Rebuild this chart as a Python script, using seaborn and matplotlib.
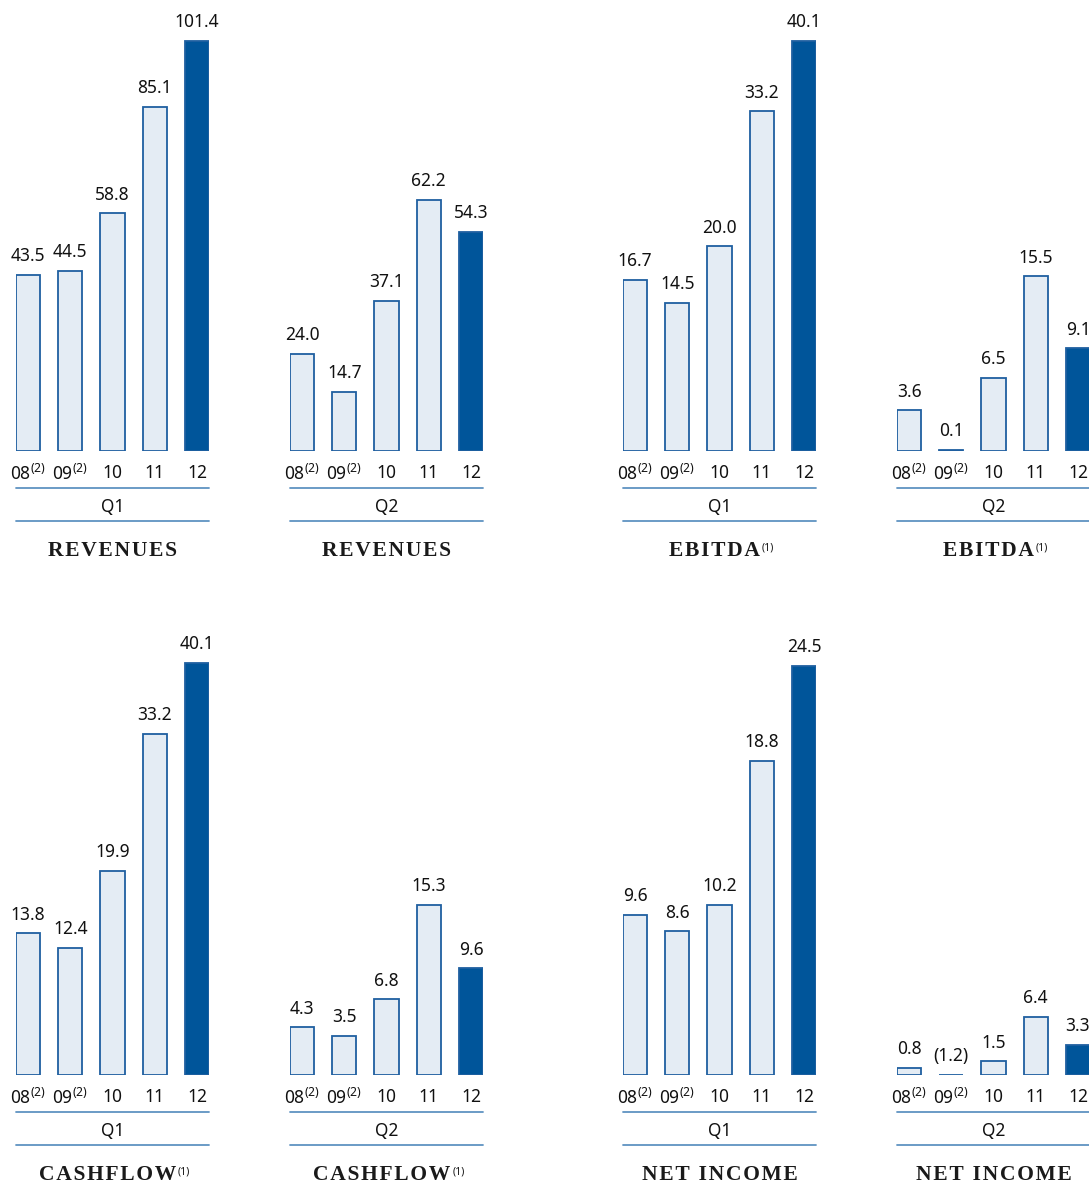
import matplotlib
matplotlib.use("Agg")
import matplotlib.pyplot as plt
from matplotlib.lines import Line2D
import seaborn as sns
import pandas as pd

sns.set_theme(style="white")
plt.rcParams['font.family'] = ['Noto Sans', 'DejaVu Sans']
plt.rcParams['mathtext.fontset'] = 'custom'
plt.rcParams['mathtext.rm'] = 'Noto Sans'

# ---------------- data ----------------
years = ["08$^{\\mathregular{(2)}}$", "09$^{\\mathregular{(2)}}$", "10", "11", "12"]

revenues_q1 = [43.5, 44.5, 58.8, 85.1, 101.4]
revenues_q2 = [24.0, 14.7, 37.1, 62.2, 54.3]
ebitda_q1 = [16.7, 14.5, 20.0, 33.2, 40.1]
ebitda_q2 = [3.6, 0.1, 6.5, 15.5, 9.1]
cashflow_q1 = [13.8, 12.4, 19.9, 33.2, 40.1]
cashflow_q2 = [4.3, 3.5, 6.8, 15.3, 9.6]
netincome_q1 = [9.6, 8.6, 10.2, 18.8, 24.5]
netincome_q2 = [0.8, -1.2, 1.5, 6.4, 3.3]

titles = ["REVENUES", "REVENUES", "EBITDA", "EBITDA",
          "CASHFLOW", "CASHFLOW", "NET INCOME", "NET INCOME"]
title_notes = ["", "", "(1)", "(1)", "(1)", "(1)", "", ""]
quarters = ["Q1", "Q2", "Q1", "Q2", "Q1", "Q2", "Q1", "Q2"]
series = [revenues_q1, revenues_q2, ebitda_q1, ebitda_q2,
          cashflow_q1, cashflow_q2, netincome_q1, netincome_q2]


def fmt(v):
    return f"({abs(v):.1f})" if v < 0 else f"{v:.1f}"


# ---------------- layout ----------------
W, H = 1089, 1184
fig = plt.figure(figsize=(W / 100, H / 100), dpi=100)
renderer = fig.canvas.get_renderer()

lefts = [16, 290, 623, 897]
panel_w = 193
row_base = [451, 1075]
axes_h = 451
ytops = [111.6, 111.6, 44.1, 40.0, 43.9, 40.6, 27.0, 49.8]

light = "#e4ecf4"
dark = "#00559a"
edge = "#1f5fa0"
line_c = "#5f93c2"
txt_c = "#111111"

for i, vals in enumerate(series):
    row, col = divmod(i, 4)
    x0 = lefts[col]
    base = row_base[row]
    ax = fig.add_axes([x0 / W, 1 - base / H, panel_w / W, axes_h / H])
    heights = [max(v, 0) for v in vals]
    df = pd.DataFrame({"year": years, "value": heights})
    pal = {y: (dark if k == 4 else light) for k, y in enumerate(years)}
    sns.barplot(data=df, x="year", y="value", hue="year", palette=pal,
                legend=False, width=0.571, ax=ax, edgecolor=edge,
                linewidth=1.3, saturation=1)
    ax.set_xlim(-0.2855, 4.2855)
    ax.set_ylim(0, ytops[i])
    ax.set_xlabel("")
    ax.set_ylabel("")
    ax.set_yticks([])
    for s in ax.spines.values():
        s.set_visible(False)
    ax.tick_params(axis="x", length=0, pad=9, labelsize=12.5, colors=txt_c)
    ax.set_facecolor("none")

    patches = sorted(ax.patches, key=lambda p: p.get_x())
    for p, v in zip(patches, vals):
        ax.annotate(fmt(v), (p.get_x() + p.get_width() / 2, p.get_height()),
                    xytext=(0, 7), textcoords="offset points",
                    ha="center", va="bottom", fontsize=12.5, color=txt_c)

    # decorations below
    xc = x0 + panel_w / 2
    for yl in (base + 37, base + 70):
        fig.add_artist(Line2D([x0 / W, (x0 + panel_w) / W], [1 - yl / H] * 2,
                              color=line_c, lw=1.3))
    fig.text(xc / W, 1 - (base + 56) / H, quarters[i], ha="center",
             va="center", fontsize=12.5, color=txt_c)
    t = "\u200a".join(list(titles[i]))
    note = title_notes[i]
    shift = 5 if note else 0
    tt = fig.text((xc - shift) / W, 1 - (base + 100) / H, t, ha="center",
                  va="center", fontsize=15.5, fontweight="bold",
                  family=["Liberation Serif", "DejaVu Serif"], color="#1a1a1a")
    if note:
        bb = tt.get_window_extent(renderer)
        fig.text((bb.x1 + 2) / W, (bb.y1 - 1) / H, note, ha="left", va="top",
                 fontsize=7.5, color="#1a1a1a")

fig.savefig("out.png", dpi=100)
